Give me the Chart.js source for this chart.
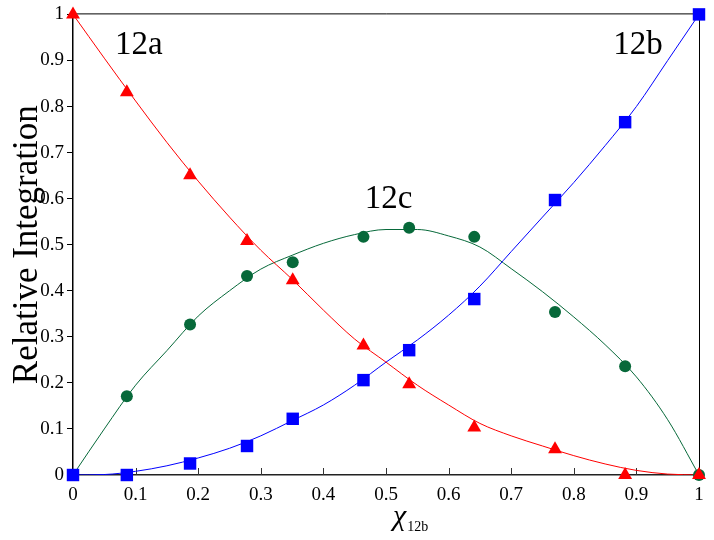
<!DOCTYPE html>
<html lang="en">
<head>
<meta charset="UTF-8">
<title>Relative Integration</title>
<script src="https://cdn.jsdelivr.net/npm/chart.js"></script>
<style>
  html, body { margin: 0; padding: 0; background: #fff; }
</style>
</head>
<body>
<canvas id="relChart" width="714" height="540"></canvas>
<script>
// measured samples (mole fraction of 12b)
var xMole  = [0, 0.086, 0.187, 0.278, 0.351, 0.464, 0.537, 0.641, 0.770, 0.882, 1.0];
var int12a = [1.0, 0.831, 0.651, 0.508, 0.423, 0.281, 0.197, 0.103, 0.056, 0.0, 0.0];
var int12b = [0, 0, 0.025, 0.063, 0.122, 0.206, 0.271, 0.382, 0.597, 0.766, 1.0];
var int12c = [0, 0.171, 0.327, 0.432, 0.462, 0.517, 0.537, 0.517, 0.354, 0.236, 0];

// fitted curves
var fitX = [0, 0.05, 0.1, 0.15, 0.2, 0.25, 0.3, 0.35, 0.4, 0.45, 0.5,
            0.55, 0.6, 0.65, 0.7, 0.75, 0.8, 0.85, 0.9, 0.95, 1.0];
var fitA = [1.0, 0.905, 0.812, 0.722, 0.638, 0.56, 0.488, 0.425, 0.358, 0.295, 0.245,
            0.195, 0.152, 0.112, 0.085, 0.063, 0.042, 0.024, 0.01, 0.002, 0];
var fitB = [0, 0.001, 0.008, 0.02, 0.037, 0.058, 0.085, 0.118, 0.152, 0.195, 0.245,
            0.293, 0.347, 0.41, 0.485, 0.56, 0.635, 0.715, 0.8, 0.9, 1.0];
var fitC = [0, 0.1, 0.195, 0.27, 0.345, 0.4, 0.447, 0.477, 0.503, 0.522, 0.533,
            0.533, 0.519, 0.495, 0.448, 0.398, 0.343, 0.283, 0.213, 0.12, 0];

// curve names placed in data coordinates
var curveNames = ['12a', '12b', '12c'];
var nameX = [0.067, 0.863, 0.466];
var nameY = [0.913, 0.915, 0.579];

var RED = '#ff0000', BLUE = '#0000ff', GREEN = '#07693a';
var SERIF = "'Liberation Serif', 'Times New Roman', serif";

function pairs(xs, ys) {
    return xs.map(function (x, i) { return { x: x, y: ys[i] }; });
}

function tickText(v) {
    return String(Number(v.toFixed(1)));
}

// frame, inner x ticks, labels and axis titles
var extras = {
    id: 'extras',
    beforeDatasetsDraw: function (chart) {
        var ctx = chart.ctx, a = chart.chartArea, xs = chart.scales.x;
        ctx.save();
        ctx.strokeStyle = '#000';
        ctx.lineWidth = 1;
        ctx.beginPath();
        ctx.moveTo(a.left, a.top - 0.5);
        ctx.lineTo(a.right + 0.5, a.top - 0.5);
        ctx.lineTo(a.right + 0.5, a.bottom);
        ctx.stroke();
        // x ticks point inward
        ctx.strokeStyle = '#333';
        xs.ticks.forEach(function (t) {
            if (t.value <= 0 || t.value >= 1) return;
            var px = Math.round(xs.getPixelForValue(t.value)) + 0.5;
            ctx.beginPath();
            ctx.moveTo(px, a.bottom);
            ctx.lineTo(px, a.bottom - 7);
            ctx.stroke();
        });
        ctx.restore();
    },
    afterDraw: function (chart) {
        var ctx = chart.ctx, a = chart.chartArea;
        var xs = chart.scales.x, ys = chart.scales.y;
        ctx.save();
        ctx.fillStyle = '#000';
        ctx.textBaseline = 'alphabetic';
        ctx.textAlign = 'left';
        ctx.font = '33px ' + SERIF;
        curveNames.forEach(function (n, i) {
            ctx.fillText(n, xs.getPixelForValue(nameX[i]), ys.getPixelForValue(nameY[i]));
        });
        // x title: chi with subscript
        ctx.font = 'italic 30px ' + SERIF;
        var chiX = 393, chiY = 525;
        ctx.fillText('\u03c7', chiX, chiY);
        var w = ctx.measureText('\u03c7').width;
        ctx.font = '14px ' + SERIF;
        ctx.fillText('12b', chiX + w + 1, chiY + 6);
        // y title
        ctx.translate(28, (a.top + a.bottom) / 2);
        ctx.rotate(-Math.PI / 2);
        ctx.textAlign = 'center';
        ctx.textBaseline = 'middle';
        ctx.font = '35px ' + SERIF;
        ctx.fillText('Relative Integration', 0, 0);
        ctx.restore();
    }
};

function markers(label, ys, style, radius, color) {
    return {
        label: label, data: pairs(xMole, ys),
        pointStyle: style, pointRadius: radius, pointBorderWidth: 0,
        backgroundColor: color, borderColor: color, showLine: false,
        clip: false, order: 1
    };
}

function fitLine(label, ys, color) {
    return {
        label: label, data: pairs(fitX, ys), showLine: true,
        borderColor: color, borderWidth: 1, pointRadius: 0,
        cubicInterpolationMode: 'monotone', order: 2
    };
}

new Chart(document.getElementById('relChart'), {
    type: 'scatter',
    data: {
        datasets: [
            markers('12a', int12a, 'triangle', 8, RED),
            markers('12b', int12b, 'rect', 8.8, BLUE),
            markers('12c', int12c, 'circle', 6, GREEN),
            fitLine('fit 12a', fitA, RED),
            fitLine('fit 12b', fitB, BLUE),
            fitLine('fit 12c', fitC, GREEN)
        ]
    },
    options: {
        responsive: false,
        animation: false,
        layout: { padding: { top: 14, right: 15, left: 0, bottom: 0 } },
        plugins: { legend: { display: false }, tooltip: { enabled: false } },
        scales: {
            x: {
                type: 'linear', min: 0, max: 1,
                afterFit: function (s) { s.height = 65; },
                ticks: { stepSize: 0.1, padding: 9, color: '#000', callback: tickText,
                         font: { family: SERIF, size: 19 } },
                grid: { drawOnChartArea: false, drawTicks: false },
                border: { color: '#222', width: 1.5 }
            },
            y: {
                type: 'linear', min: 0, max: 1,
                afterFit: function (s) { s.width = 73; },
                ticks: { stepSize: 0.1, padding: 3, color: '#000', callback: tickText,
                         font: { family: SERIF, size: 19 } },
                grid: { drawOnChartArea: false, tickLength: 6, color: '#000' },
                border: { color: '#000', width: 1.5 }
            }
        }
    },
    plugins: [extras]
});
</script>
</body>
</html>
